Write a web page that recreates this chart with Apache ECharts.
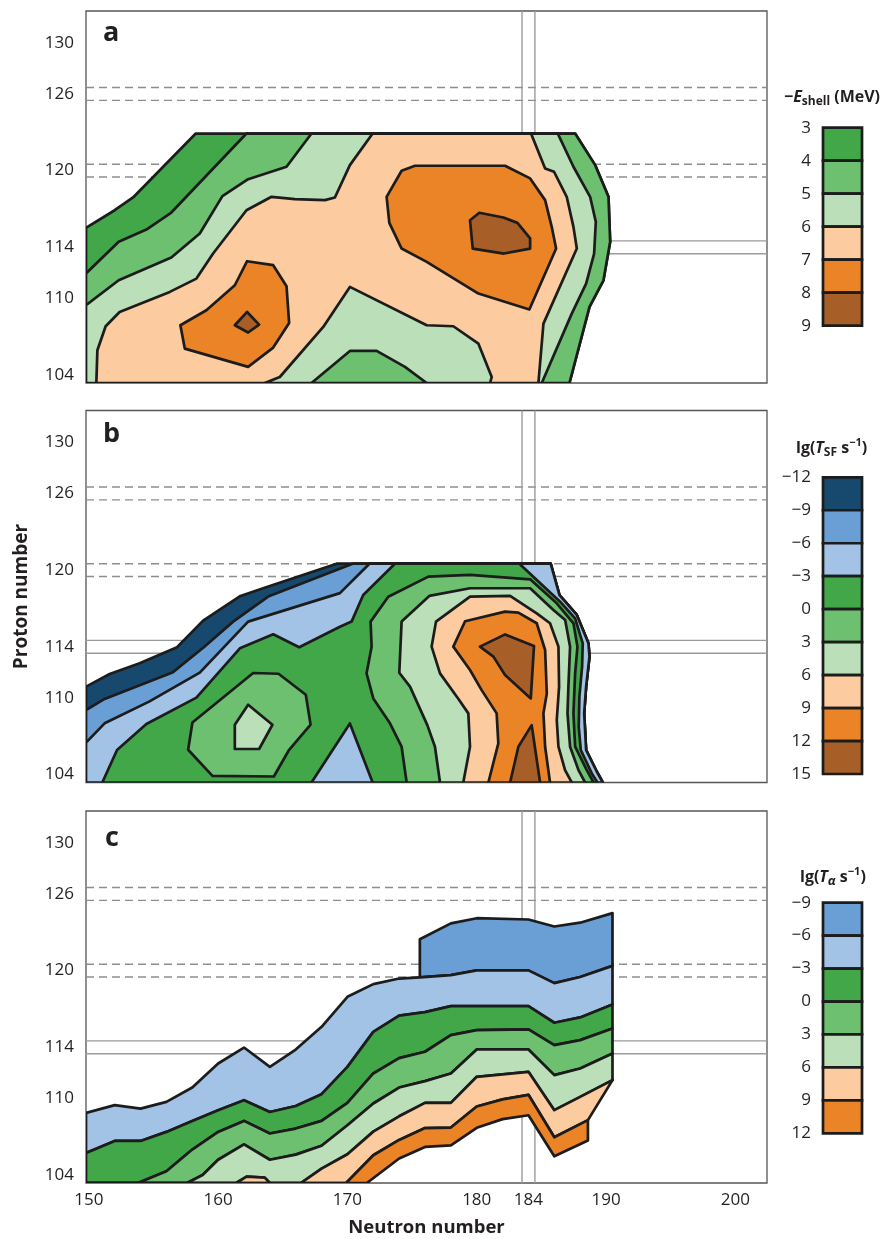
<!DOCTYPE html>
<html>
<head>
<meta charset="utf-8">
<script src="https://cdn.jsdelivr.net/npm/echarts@6/dist/echarts.min.js"></script>
<style>
  html, body { margin: 0; padding: 0; background: #fff; }
  #chart { width: 886px; height: 1239px; }
</style>
</head>
<body>
<div id="chart"></div>
<script>
// axis extent shared by the three panels (neutron number / proton number)
const XMIN = 149.78, XMAX = 202.45, YMIN = 103.38, YMAX = 132.49;
const xTicks = [150, 160, 170, 180, 184, 190, 200];
const yTicks = [104, 110, 114, 120, 126, 130];
const shellZDashed = [119.5, 120.5, 125.5, 126.5];
const shellZSolid = [113.5, 114.5];
const shellN = [183.5, 184.5];

// colour-bar levels
const eshellLevels = [3, 4, 5, 6, 7, 8, 9];
const tsfLevels = [-12, -9, -6, -3, 0, 3, 6, 9, 12, 15];
const taLevels = [-9, -6, -3, 0, 3, 6, 9, 12];

// ---- panel a : -E_shell contours (superlevel sets, painted in order)
const aLevel3 = [[XMIN, YMIN], [XMIN, 115.52], [152.0, 116.9], [153.42, 117.9], [158.27, 122.9], [187.61, 122.9], [189.16, 120.43], [190.19, 117.95], [190.32, 114.43], [189.8, 111.42], [188.72, 109.33], [187.17, YMIN]];
const aLevel4 = [[XMIN, YMIN], [XMIN, 111.95], [152.31, 114.43], [154.45, 115.39], [156.38, 116.72], [162.19, 122.9], [187.61, 122.9], [189.16, 120.43], [190.19, 117.95], [190.32, 114.43], [189.8, 111.42], [188.72, 109.33], [187.17, YMIN]];
const aLevel5 = [[XMIN, YMIN], [XMIN, 109.47], [152.31, 111.42], [156.38, 113.2], [158.58, 115.08], [160.33, 118.0], [162.32, 119.33], [165.29, 120.3], [167.22, 122.9], [186.27, 122.9], [187.48, 120.3], [188.77, 117.95], [189.21, 115.99], [189.08, 113.51], [188.46, 111.16], [187.35, 108.81], [185.03, YMIN]];
const aLevel6 = [[150.58, YMIN], [150.66, 105.94], [151.3, 107.82], [152.38, 108.94], [156.26, 110.51], [158.32, 111.55], [159.61, 113.51], [162.19, 116.9], [164.13, 117.95], [165.93, 117.77], [168.26, 117.69], [169.03, 117.9], [170.19, 120.43], [171.95, 122.9], [184.2, 122.9], [185.29, 120.17], [185.98, 119.91], [186.96, 117.95], [187.48, 115.6], [187.74, 113.9], [185.16, 108.03], [184.77, YMIN]];
const aDip5 = [[163.61, YMIN], [164.77, 103.85], [168.13, 107.77], [170.19, 110.9], [176.13, 107.9], [178.19, 107.82], [180.13, 106.46], [181.16, 103.85], [181.03, YMIN]];
const aDip4 = [[167.22, YMIN], [170.19, 105.89], [172.26, 105.89], [174.45, 104.64], [176.13, YMIN]];
const aLevel7L = [[157.08, 107.9], [157.42, 106.07], [162.32, 104.64], [164.26, 106.15], [165.49, 108.08], [165.29, 110.95], [164.26, 112.6], [162.24, 112.91], [161.29, 111.03], [159.09, 109.07]];
const aLevel8L = [[161.29, 107.9], [162.24, 108.94], [163.17, 107.95], [162.32, 107.33]];
const aLevel7R = [[175.22, 120.38], [174.19, 119.99], [173.03, 117.95], [173.24, 115.91], [174.19, 113.9], [176.13, 112.86], [180.13, 110.38], [184.07, 109.13], [186.14, 113.9], [185.8, 115.6], [185.29, 117.69], [184.13, 119.39], [182.19, 120.38]];
const aLevel8R = [[179.48, 116.12], [180.2, 116.7], [182.06, 116.33], [183.15, 115.91], [184.13, 114.69], [184.13, 113.9], [182.11, 113.51], [179.69, 113.9]];

// ---- panel b : lg(T_SF) contours
const bRight = [[185.72, 120.5], [186.4, 118.05], [187.74, 116.49], [188.64, 114.27], [188.72, 113.23], [188.46, 110.88], [188.31, 108.79], [188.46, 105.92], [189.29, 104.22], [189.75, YMIN]];
const bLevelM12 = [[XMIN, YMIN], [XMIN, 110.88], [151.61, 111.87], [153.93, 112.71], [156.82, 113.96], [158.84, 116.05], [161.73, 117.98], [163.48, 118.58], [169.16, 120.5]];
const bLevelM9 = [[XMIN, YMIN], [XMIN, 109.05], [151.22, 109.92], [156.46, 111.98], [158.89, 113.96], [161.16, 115.97], [163.87, 117.93], [170.4, 120.5]];
const bLevelM6 = [[XMIN, YMIN], [XMIN, 106.5], [151.22, 108.01], [154.66, 109.71], [158.58, 111.98], [162.32, 115.97], [169.42, 118.2], [171.7, 120.5]];
const bLevelM3 = [[151.04, YMIN], [152.18, 105.92], [154.45, 107.96], [158.32, 110.02], [161.68, 113.88], [164.26, 114.98], [166.27, 113.96], [169.42, 115.57], [170.32, 115.97], [171.22, 118.05], [173.67, 120.5], [183.3, 120.5], [186.45, 117.53], [187.61, 116.23], [188.2, 114.27], [188.15, 112.44], [187.94, 110.09], [187.89, 107.74], [188.05, 105.92], [188.9, 104.09], [189.34, YMIN]];
const bDipM3 = [[167.22, YMIN], [170.19, 108.0], [171.95, YMIN]];
const bLevel0L = [[158.01, 108.08], [157.68, 105.94], [159.56, 103.9], [164.31, 103.85], [165.49, 105.94], [167.15, 107.9], [166.78, 110.25], [164.67, 111.89], [162.71, 111.95]];
const bLevel3L = [[161.29, 107.9], [161.29, 106.0], [163.17, 106.0], [164.2, 107.9], [162.32, 109.47]];
const bLevel0R = [[174.58, YMIN], [174.19, 106.18], [173.29, 108.01], [172.0, 109.96], [171.48, 111.92], [171.87, 114.01], [171.79, 115.97], [173.16, 117.92], [176.26, 119.49], [179.48, 119.62], [184.13, 119.28], [186.19, 117.4], [187.48, 115.84], [187.79, 114.01], [187.61, 111.92], [187.48, 108.79], [187.61, 106.18], [188.51, 104.35], [189.03, YMIN]];
const bLevel3R = [[177.16, YMIN], [176.77, 106.18], [176.18, 107.87], [174.84, 110.88], [174.01, 111.97], [174.19, 115.97], [176.33, 117.98], [179.48, 118.58], [184.13, 118.58], [185.93, 116.88], [186.84, 116.1], [187.22, 114.01], [187.09, 110.88], [187.02, 108.79], [187.22, 106.18], [187.87, 104.35], [188.38, YMIN]];
const bLevel6 = [[178.96, YMIN], [179.48, 106.18], [179.35, 108.79], [178.6, 109.9], [177.16, 111.92], [176.51, 114.01], [176.85, 115.97], [179.48, 117.92], [182.58, 117.98], [184.64, 116.62], [185.67, 115.84], [186.32, 114.01], [186.37, 110.88], [186.19, 108.27], [186.32, 106.18], [186.83, 104.35], [187.35, YMIN]];
const bLevel9 = [[178.19, 114.01], [179.1, 116.0], [182.19, 116.75], [183.22, 116.67], [184.64, 115.84], [185.29, 113.75], [185.42, 110.35], [185.16, 108.79], [185.29, 106.18], [185.67, YMIN], [180.9, YMIN], [181.67, 106.44], [181.54, 108.79], [180.38, 110.61], [179.48, 112.18]];
const bLevel12a = [[180.25, 114.01], [182.19, 114.97], [184.43, 114.06], [184.18, 109.96], [182.19, 111.79], [181.29, 113.23]];
const bLevel12b = [[182.58, YMIN], [183.22, 106.18], [184.25, 107.87], [184.9, YMIN]];

// ---- panel c : lg(T_alpha) contour lines, left to right
const cEdgeM9 = [[175.6, 122.45], [178, 123.7], [180, 124.1], [184, 124.0], [186, 123.45], [188, 123.75], [190.5, 124.5]];
const cEdgeM6 = [[XMIN, 108.87], [152, 109.47], [154, 109.2], [156, 109.73], [158, 110.85], [160, 112.73], [162, 113.98], [164, 112.47], [166, 113.82], [168, 115.6], [170, 117.95], [172, 118.94], [174, 119.38], [175.6, 119.47], [178, 119.65], [180, 120.02], [184, 120.02], [186, 119.02], [188, 119.5], [190.5, 120.37]];
const cEdgeM3 = [[XMIN, 105.73], [152, 106.67], [154, 106.67], [156, 107.38], [158, 108.24], [160, 109.07], [162, 109.86], [164, 108.94], [166, 109.41], [168, 110.33], [170, 112.47], [172, 115.21], [174, 116.48], [176, 116.75], [178, 117.22], [184, 117.22], [186, 115.92], [188, 116.34], [190.5, 117.35]];
const cEdge0 = [[XMIN, YMIN], [153.8, YMIN], [156, 104.3], [158, 106.0], [160, 107.38], [162, 108.24], [164, 107.25], [166, 107.64], [168, 108.24], [170, 109.65], [172, 111.95], [174, 113.15], [176, 113.65], [178, 114.95], [180, 115.34], [184, 115.4], [186, 114.17], [188, 114.56], [190.5, 115.47]];
const cEdge3 = [[XMIN, YMIN], [157.6, YMIN], [158.8, 104.0], [160, 105.2], [162, 106.4], [164, 105.2], [166, 105.6], [168, 106.3], [170, 107.9], [172, 109.6], [174, 110.85], [176, 111.35], [178, 111.95], [180, 113.83], [184, 113.83], [186, 111.82], [188, 112.34], [190.5, 113.52]];
const cEdge6 = [[XMIN, YMIN], [161.4, YMIN], [162.2, 103.88], [163.6, 103.8], [164, YMIN], [166.4, YMIN], [168, 104.5], [170, 105.63], [172, 107.4], [174, 108.6], [176, 109.65], [178, 109.65], [180, 111.69], [184, 112.08], [186, 109.08], [188, 110.12], [190.5, 111.43]];
const cEdge9 = [[XMIN, YMIN], [169.9, YMIN], [172, 105.55], [174, 106.75], [176, 107.68], [178, 107.72], [180, 109.37], [182, 109.92], [184, 110.28], [186, 106.96], [188.6, 108.3]];
const cEdge12 = [[XMIN, YMIN], [171.5, YMIN], [174, 105.3], [176, 106.2], [178, 106.33], [180, 107.7], [182, 108.38], [184, 108.68], [186, 105.47], [188.6, 106.7]];

const COL = {
  navy: '#17496f', blueMid: '#699fd4', blueLight: '#a2c3e6',
  greenDark: '#42a748', greenMid: '#6cc070', greenLight: '#badfb9',
  peach: '#fccba0', orange: '#eb8427', brown: '#a75e27'
};
const FONT = "'Open Sans', 'Noto Sans', sans-serif";
const INK = '#231f20';

const band = (upper, lower) => upper.concat(lower.slice().reverse());

const panelA = [
  { pts: aLevel3, color: COL.greenDark },
  { pts: aLevel4, color: COL.greenMid },
  { pts: aLevel5, color: COL.greenLight },
  { pts: aLevel6, color: COL.peach },
  { pts: aDip5, color: COL.greenLight },
  { pts: aDip4, color: COL.greenMid },
  { pts: aLevel7L, color: COL.orange },
  { pts: aLevel8L, color: COL.brown },
  { pts: aLevel7R, color: COL.orange },
  { pts: aLevel8R, color: COL.brown }
];
const panelB = [
  { pts: bLevelM12.concat(bRight), color: COL.navy },
  { pts: bLevelM9.concat(bRight), color: COL.blueMid },
  { pts: bLevelM6.concat(bRight), color: COL.blueLight },
  { pts: bLevelM3, color: COL.greenDark },
  { pts: bDipM3, color: COL.blueLight },
  { pts: bLevel0L, color: COL.greenMid },
  { pts: bLevel3L, color: COL.greenLight },
  { pts: bLevel0R, color: COL.greenMid },
  { pts: bLevel3R, color: COL.greenLight },
  { pts: bLevel6, color: COL.peach },
  { pts: bLevel9, color: COL.orange },
  { pts: bLevel12a, color: COL.brown },
  { pts: bLevel12b, color: COL.brown }
];
const panelC = [
  { pts: band(cEdgeM9, cEdgeM6.filter(p => p[0] >= cEdgeM9[0][0])), color: COL.blueMid },
  { pts: band(cEdgeM6, cEdgeM3), color: COL.blueLight },
  { pts: band(cEdgeM3, cEdge0), color: COL.greenDark },
  { pts: band(cEdge0, cEdge3), color: COL.greenMid },
  { pts: band(cEdge3, cEdge6), color: COL.greenLight },
  { pts: band(cEdge6, cEdge9), color: COL.peach },
  { pts: band(cEdge9, cEdge12), color: COL.orange }
];

const chart = echarts.init(document.getElementById('chart'));

const panelTops = [11, 410.5, 811];

function polygonSeries(idx, layers) {
  return {
    type: 'custom', xAxisIndex: idx, yAxisIndex: idx, z: 3, silent: true, clip: true,
    data: layers.map(l => l.pts[0]),
    renderItem: function (params, api) {
      const layer = layers[params.dataIndex];
      return {
        type: 'polygon',
        shape: { points: layer.pts.map(p => api.coord(p)) },
        style: { fill: layer.color, stroke: '#1c1c1c', lineWidth: 2.7, lineJoin: 'round' }
      };
    }
  };
}

function refLines(idx) {
  const out = [];
  const base = { type: 'line', xAxisIndex: idx, yAxisIndex: idx, symbol: 'none', silent: true, z: 1 };
  shellZDashed.forEach(v => out.push(Object.assign({}, base, {
    data: [[XMIN, v], [XMAX, v]], lineStyle: { color: '#8d8d8d', width: 1.4, type: [8, 5] }
  })));
  shellZSolid.forEach(v => out.push(Object.assign({}, base, {
    data: [[XMIN, v], [XMAX, v]], lineStyle: { color: '#9b9b9b', width: 1.4 }
  })));
  shellN.forEach(v => out.push(Object.assign({}, base, {
    data: [[v, YMIN], [v, YMAX]], lineStyle: { color: '#9b9b9b', width: 1.4 }
  })));
  return out;
}

function colorbarSeries(idx, levels, colors) {
  return {
    type: 'custom', xAxisIndex: idx, yAxisIndex: idx, silent: true, z: 3,
    data: colors.map((c, i) => [0, levels[i], levels[i + 1]]),
    encode: { x: 0, y: [1, 2] },
    renderItem: function (params, api) {
      const a = api.coord([0, api.value(1)]);
      const b = api.coord([1, api.value(2)]);
      return {
        type: 'rect',
        shape: { x: Math.min(a[0], b[0]), y: Math.min(a[1], b[1]), width: Math.abs(b[0] - a[0]), height: Math.abs(b[1] - a[1]) },
        style: { fill: colors[params.dataIndex], stroke: '#1c1c1c', lineWidth: 2.7 }
      };
    }
  };
}

const grids = panelTops.map(t => ({
  left: 86, top: t, width: 681, height: 372, show: true,
  borderColor: '#555', borderWidth: 1.3, backgroundColor: 'transparent'
}));
grids.push({ left: 823, top: 127.7, width: 39, height: 198 });
grids.push({ left: 823, top: 477.3, width: 39, height: 296.7 });
grids.push({ left: 823, top: 902.7, width: 39, height: 230.6 });

const hidden = { show: false };
const labelStyle = { fontSize: 17, color: INK, fontFamily: FONT };

const xAxes = [0, 1, 2].map(i => ({
  type: 'value', gridIndex: i, min: XMIN, max: XMAX,
  axisLine: hidden, axisTick: hidden, splitLine: hidden,
  axisLabel: Object.assign({ show: i === 2, customValues: xTicks, margin: 9 }, labelStyle),
  name: i === 2 ? 'Neutron number' : '', nameLocation: 'middle', nameGap: 35,
  nameTextStyle: { fontSize: 18.5, fontWeight: 'bold', color: INK, fontFamily: FONT }
}));
const yAxes = [0, 1, 2].map(i => ({
  type: 'value', gridIndex: i, min: YMIN, max: YMAX,
  axisLine: hidden, axisTick: hidden, splitLine: hidden,
  axisLabel: Object.assign({ customValues: yTicks, margin: 12 }, labelStyle),
  name: i === 1 ? 'Proton number' : '', nameLocation: 'middle', nameGap: 55, nameRotate: 90,
  nameTextStyle: { fontSize: 19, fontWeight: 'bold', color: INK, fontFamily: FONT }
}));

const minus = v => (v < 0 ? '\u2212' + Math.abs(v) : String(v));
[[eshellLevels, 1], [tsfLevels, 3], [taLevels, 3]].forEach(([lv, step], k) => {
  const gi = 3 + k;
  xAxes.push({ type: 'value', gridIndex: gi, min: 0, max: 1, show: false });
  yAxes.push({
    type: 'value', gridIndex: gi, min: lv[0], max: lv[lv.length - 1], interval: step, inverse: true,
    axisLine: hidden, axisTick: hidden, splitLine: hidden,
    axisLabel: Object.assign({ margin: 12, formatter: minus }, labelStyle)
  });
});

const RICH = {
  n: { fontSize: 16, fontWeight: 'bold', fontFamily: FONT, color: INK, lineHeight: 22, verticalAlign: 'middle' },
  i: { fontSize: 16, fontWeight: 'bold', fontStyle: 'italic', fontFamily: FONT, color: INK, lineHeight: 22, verticalAlign: 'middle' },
  s: { fontSize: 12, fontWeight: 'bold', fontFamily: FONT, color: INK, lineHeight: 22, verticalAlign: 'bottom' },
  si: { fontSize: 13, fontWeight: 'bold', fontStyle: 'italic', fontFamily: FONT, color: INK, lineHeight: 22, verticalAlign: 'bottom' },
  u: { fontSize: 11, fontWeight: 'bold', fontFamily: FONT, color: INK, lineHeight: 22, verticalAlign: 'top' }
};
const letterStyle = { fontSize: 27, fontWeight: 'bold', fontFamily: FONT, color: INK };

const series = [];
[panelA, panelB, panelC].forEach((layers, i) => {
  series.push(...refLines(i));
  series.push(polygonSeries(i, layers));
});
series.push(colorbarSeries(3, eshellLevels, [COL.greenDark, COL.greenMid, COL.greenLight, COL.peach, COL.orange, COL.brown]));
series.push(colorbarSeries(4, tsfLevels, [COL.navy, COL.blueMid, COL.blueLight, COL.greenDark, COL.greenMid, COL.greenLight, COL.peach, COL.orange, COL.brown]));
series.push(colorbarSeries(5, taLevels, [COL.blueMid, COL.blueLight, COL.greenDark, COL.greenMid, COL.greenLight, COL.peach, COL.orange]));

chart.setOption({
  animation: false,
  backgroundColor: '#fff',
  title: [
    { text: 'a', left: 103, top: 20, padding: 0, textStyle: letterStyle },
    { text: 'b', left: 103, top: 421, padding: 0, textStyle: letterStyle },
    { text: 'c', left: 105, top: 825, padding: 0, textStyle: letterStyle },
    { text: '{n|\u2212}{i|E}{s|shell}{n| (MeV)}', left: 784, top: 86, padding: 0, textStyle: { rich: RICH } },
    { text: '{n|lg(}{i|T}{s|SF}{n| s}{u|\u22121}{n|)}', left: 796, top: 437, padding: 0, textStyle: { rich: RICH } },
    { text: '{n|lg(}{i|T}{si|\u03b1}{n| s}{u|\u22121}{n|)}', left: 800, top: 866, padding: 0, textStyle: { rich: RICH } }
  ],
  grid: grids,
  xAxis: xAxes,
  yAxis: yAxes,
  series: series
});
</script>
</body>
</html>
